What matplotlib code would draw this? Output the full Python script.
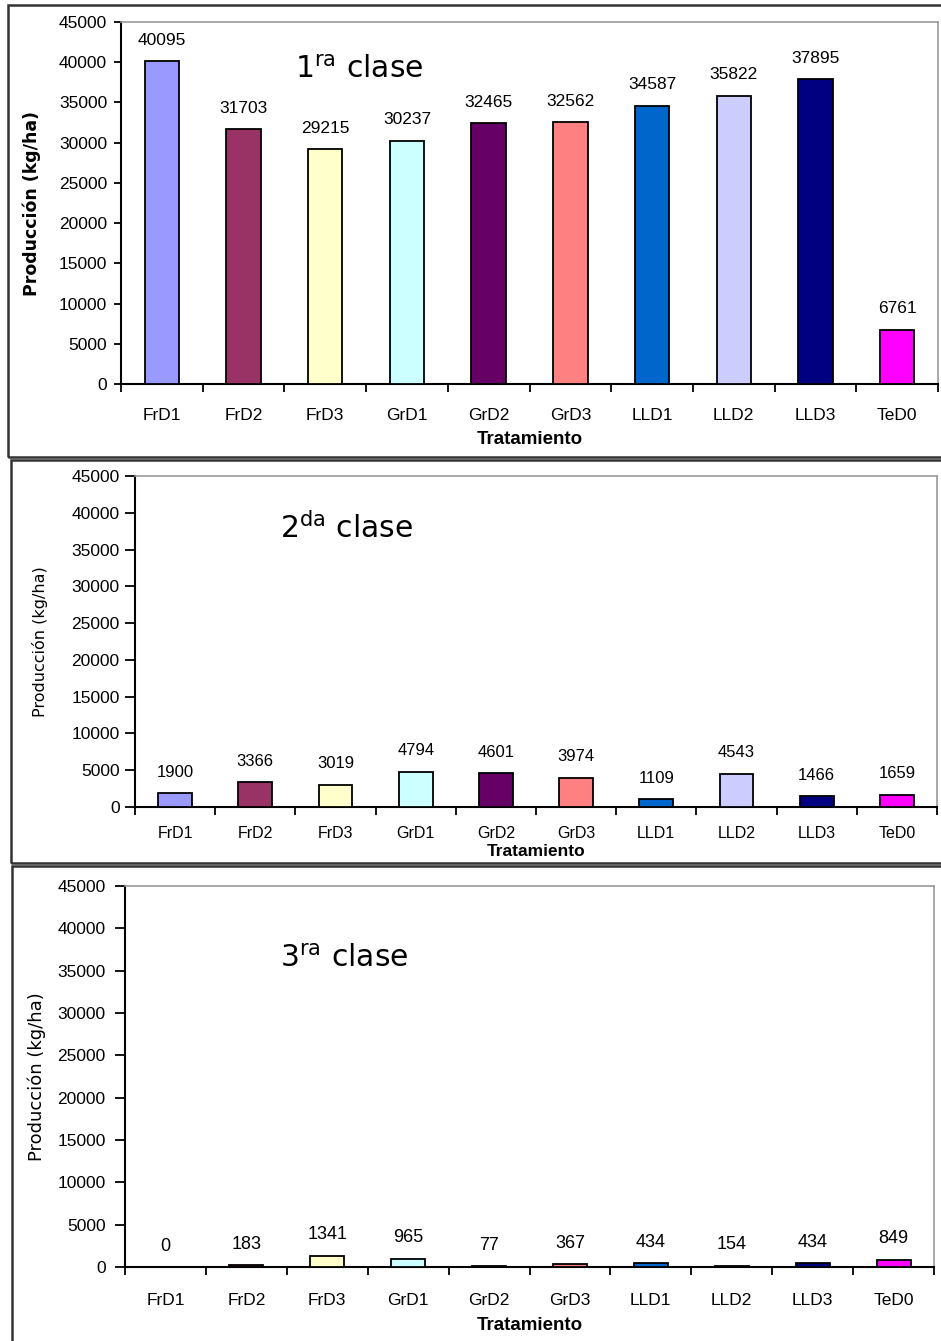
import numpy as np
import matplotlib
matplotlib.use('Agg')
import matplotlib.pyplot as plt
from matplotlib.patches import Rectangle

# data
tratamientos = ['FrD1', 'FrD2', 'FrD3', 'GrD1', 'GrD2', 'GrD3', 'LLD1', 'LLD2', 'LLD3', 'TeD0']
primera = [40095, 31703, 29215, 30237, 32465, 32562, 34587, 35822, 37895, 6761]
segunda = [1900, 3366, 3019, 4794, 4601, 3974, 1109, 4543, 1466, 1659]
tercera = [0, 183, 1341, 965, 77, 367, 434, 154, 434, 849]
colores = ['#9999FF', '#993366', '#FFFFCC', '#CCFFFF', '#660066',
           '#FF8080', '#0066CC', '#CCCCFF', '#000080', '#FF00FF']
clases = ['1', '2', '3']
sufijos = ['ra', 'da', 'ra']
yticks = np.arange(0, 45001, 5000)

W, H = 941, 1341
fig = plt.figure(figsize=(W / 100, H / 100), dpi=100)
plt.rcParams['font.family'] = 'Liberation Sans'


def rect(l, t, r, b):
    # pixel box (from top-left) -> figure fraction
    return [l / W, 1 - b / H, (r - l) / W, (b - t) / H]


# panel layout in pixels: axes box, frame box, xlabel y, ylabel x, title pos, font tweaks
paneles = [
    dict(ax=(121, 22, 938, 384), box=(8, 5, 960, 457), xl=440, yl=32, tit=(295, 78),
         ylsize=12.5, ylw='bold', xpad=11, ypad=5, ytl=5, lblsize=12.5,
         xtsize=12.5, xlsize=13.5),
    dict(ax=(135, 476, 937, 807), box=(11, 460, 960, 863), xl=852, yl=40, tit=(280, 538),
         ylsize=11.5, ylw='normal', xpad=8, ypad=4, ytl=7, lblsize=12,
         xtsize=11.5, xlsize=12.5),
    dict(ax=(125, 886, 934, 1267), box=(12, 866, 960, 1360), xl=1325, yl=37, tit=(280, 967),
         ylsize=13, ylw='normal', xpad=13, ypad=7, ytl=7, lblsize=13,
         xtsize=12.5, xlsize=13.5),
]
series = [primera, segunda, tercera]

x = np.arange(len(tratamientos))
for p, valores, num, suf in zip(paneles, series, clases, sufijos):
    l, t, r, b = p['ax']
    ax = fig.add_axes(rect(l, t, r, b))
    ax.bar(x, valores, width=0.42, color=colores, edgecolor='black', linewidth=1.3, zorder=3)
    for i, v in enumerate(valores):
        ax.annotate(str(v), (i, v), xytext=(0, 15), textcoords='offset points',
                    ha='center', va='center', fontsize=p['lblsize'])
    ax.set_xlim(-0.5, len(tratamientos) - 0.5)
    ax.set_ylim(0, 45000)
    ax.set_yticks(yticks)
    ax.set_yticklabels([str(v) for v in yticks], fontsize=12.5)
    # category labels at the centres, tick marks at the boundaries
    ax.set_xticks(x)
    ax.set_xticklabels(tratamientos, fontsize=p['xtsize'])
    ax.set_xticks(np.arange(-0.5, len(tratamientos)), minor=True)
    ax.tick_params(axis='x', which='major', length=0, pad=p['xpad'] + 6)
    ax.tick_params(axis='x', which='minor', length=6, width=1.3, direction='out')
    ax.tick_params(axis='y', length=p['ytl'], width=1.3, pad=p['ypad'])
    for s in ['left', 'bottom']:
        ax.spines[s].set_linewidth(1.5)
        ax.spines[s].set_color('black')
    for s in ['top', 'right']:
        ax.spines[s].set_linewidth(1.2)
        ax.spines[s].set_color('#9a9a9a')

    ax.set_xlabel('Tratamiento', fontsize=p['xlsize'], fontweight='bold', va='center')
    ax.xaxis.set_label_coords(0.5, (b - p['xl']) / (b - t))
    ax.set_ylabel('Producción (kg/ha)', family='DejaVu Sans', fontsize=p['ylsize'],
                  fontweight=p['ylw'], va='center')
    ax.yaxis.set_label_coords((p['yl'] - l) / (r - l), 0.5)

    tx, ty = p['tit']
    fig.text(tx / W, 1 - ty / H, num + r'$^{\mathregular{' + suf + '}}$ clase',
             family='DejaVu Sans', fontsize=21.5, ha='left', va='baseline')

    bl, bt, br, bb = p['box']
    fig.patches.append(Rectangle((bl / W, 1 - bb / H), (br - bl) / W, (bb - bt) / H,
                                 transform=fig.transFigure, fill=False,
                                 edgecolor='#333333', linewidth=1.8))

fig.savefig('out.png', dpi=100)
